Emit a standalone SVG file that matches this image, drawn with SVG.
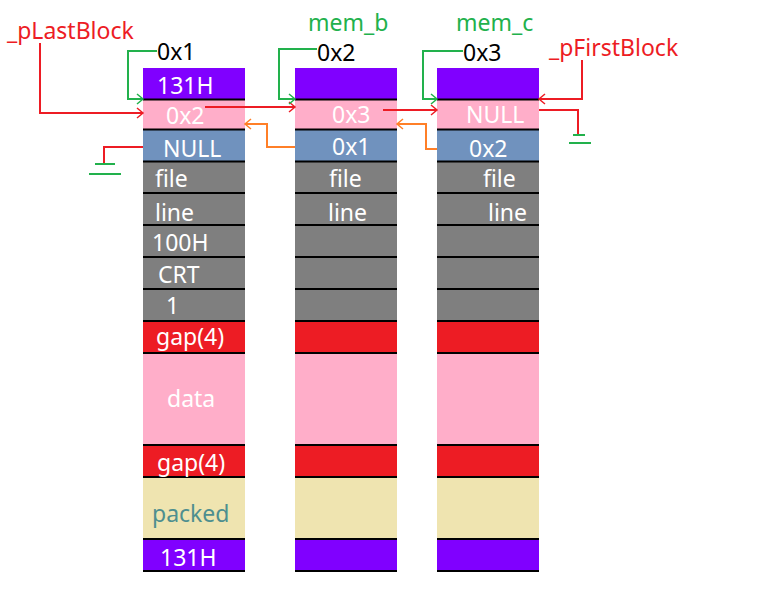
<svg xmlns="http://www.w3.org/2000/svg" width="763" height="597" viewBox="0 0 763 597">
<style>
text{font-family:"Noto Sans","Open Sans","Liberation Sans",sans-serif;font-size:23px}
.w{fill:#ffffff}
.pu{fill:#8000ff}.pk{fill:#ffaec9}.bl{fill:#7092be}.gr{fill:#7f7f7f}.rd{fill:#ed1c24}.tn{fill:#efe4b0}
.sep{stroke:#000;stroke-width:2}
.ln{fill:none;stroke-width:2}
.r{stroke:#ed1c24}.g{stroke:#22b14c}.o{stroke:#ff7f27}
</style>
<defs>
<marker id="ar" markerUnits="userSpaceOnUse" markerWidth="12" markerHeight="12" refX="0" refY="0" viewBox="-8 -6 9 12" orient="auto"><path d="M-6,-5 L0,0 L-6,5" fill="none" stroke="#ed1c24" stroke-width="1.5"/></marker>
<marker id="ag" markerUnits="userSpaceOnUse" markerWidth="12" markerHeight="12" refX="0" refY="0" viewBox="-8 -6 9 12" orient="auto"><path d="M-6,-5 L0,0 L-6,5" fill="none" stroke="#22b14c" stroke-width="1.5"/></marker>
<marker id="ao" markerUnits="userSpaceOnUse" markerWidth="12" markerHeight="12" refX="0" refY="0" viewBox="-8 -6 9 12" orient="auto"><path d="M-6,-5 L0,0 L-6,5" fill="none" stroke="#ff7f27" stroke-width="1.5"/></marker>
<g id="column">
<rect class="pu" x="0" y="68" width="102" height="31"/>
<rect class="pk" x="0" y="99" width="102" height="30.5"/>
<rect class="bl" x="0" y="129.5" width="102" height="31.5"/>
<rect class="gr" x="0" y="161" width="102" height="160"/>
<rect class="rd" x="0" y="321" width="102" height="32"/>
<rect class="pk" x="0" y="353" width="102" height="92"/>
<rect class="rd" x="0" y="445" width="102" height="32"/>
<rect class="tn" x="0" y="477" width="102" height="62"/>
<rect class="pu" x="0" y="539" width="102" height="32"/>
<g class="sep">
<line x1="0" x2="102" y1="99.5" y2="99.5"/>
<line x1="0" x2="102" y1="129.5" y2="129.5"/>
<line x1="0" x2="102" y1="161.5" y2="161.5"/>
<line x1="0" x2="102" y1="193" y2="193"/>
<line x1="0" x2="102" y1="225" y2="225"/>
<line x1="0" x2="102" y1="257" y2="257"/>
<line x1="0" x2="102" y1="289" y2="289"/>
<line x1="0" x2="102" y1="321" y2="321"/>
<line x1="0" x2="102" y1="353" y2="353"/>
<line x1="0" x2="102" y1="445" y2="445"/>
<line x1="0" x2="102" y1="477" y2="477"/>
<line x1="0" x2="102" y1="539" y2="539"/>
<line x1="0" x2="102" y1="571" y2="571"/>
</g>
</g>
</defs>

<g id="block1">
<use href="#column" x="143"/>
<text class="w" x="157" y="94">131H</text>
<text class="w" x="166" y="124">0x2</text>
<text class="w" x="163" y="157">NULL</text>
<text class="w" x="155" y="187">file</text>
<text class="w" x="155" y="221">line</text>
<text class="w" x="152" y="251">100H</text>
<text class="w" x="158" y="283">CRT</text>
<text class="w" x="166" y="314">1</text>
<text class="w" x="156" y="345">gap(4)</text>
<text class="w" x="167" y="407">data</text>
<text class="w" x="157" y="471">gap(4)</text>
<text x="152" y="522" fill="#4e8f8f">packed</text>
<text class="w" x="160" y="566">131H</text>
</g>

<g id="block2">
<use href="#column" x="295"/>
<text class="w" x="332" y="123">0x3</text>
<text class="w" x="332" y="155">0x1</text>
<text class="w" x="329" y="187">file</text>
<text class="w" x="328" y="221">line</text>
</g>

<g id="block3">
<use href="#column" x="437"/>
<text class="w" x="466" y="123">NULL</text>
<text class="w" x="469" y="157">0x2</text>
<text class="w" x="483" y="187">file</text>
<text class="w" x="488" y="221">line</text>
</g>

<g id="labels">
<text x="7" y="39" fill="#ed1c24">_pLastBlock</text>
<text x="157" y="60" fill="#000">0x1</text>
<text x="308" y="31" fill="#22b14c">mem_b</text>
<text x="317" y="61" fill="#000">0x2</text>
<text x="456" y="31" fill="#22b14c">mem_c</text>
<text x="463" y="61" fill="#000">0x3</text>
<text x="549" y="56" fill="#ed1c24">_pFirstBlock</text>
</g>

<g id="connectors">
<path class="ln g" d="M157,51 H128 V99 H143" marker-end="url(#ag)"/>
<path class="ln r" d="M40,43 V113 H143" marker-end="url(#ar)"/>
<path class="ln r" d="M205,107 H295" marker-end="url(#ar)"/>
<path class="ln g" d="M317,49 H279 V99 H295" marker-end="url(#ag)"/>
<path class="ln o" d="M295,147 H267 V124 H245" marker-end="url(#ao)"/>
<path class="ln r" d="M383,110 H437" marker-end="url(#ar)"/>
<path class="ln g" d="M463,51 H423 V99 H437" marker-end="url(#ag)"/>
<path class="ln o" d="M437,149 H426 V124 H397" marker-end="url(#ao)"/>
<path class="ln r" d="M582,60 V99 H539" marker-end="url(#ar)"/>
<path class="ln r" d="M539,110 H578 V135"/>
<path class="ln g" d="M573,135 H585 M569,143 H591"/>
<path class="ln r" d="M143,147 H104 V164"/>
<path class="ln g" d="M95,164 H115 M89,174 H121"/>
</g>
</svg>
